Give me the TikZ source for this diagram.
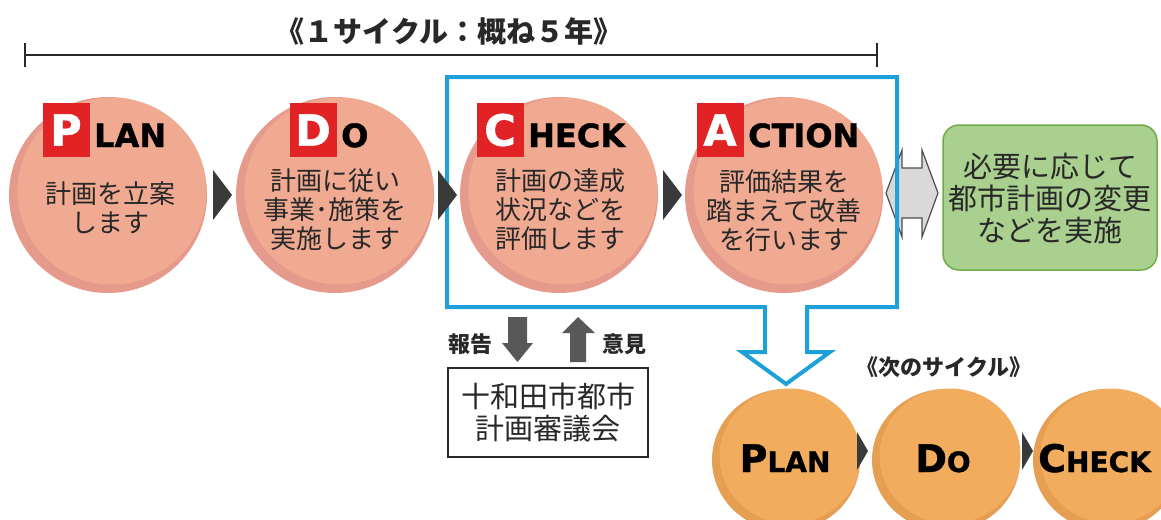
\documentclass[tikz,border=0pt]{standalone}
\usepackage{fontspec}
\setmainfont{DejaVu Sans}
\newfontfamily\jp{Noto Sans CJK JP}
\newfontfamily\lat{DejaVu Sans Bold}[FakeBold=1.2]
\usetikzlibrary{shapes.geometric}

\definecolor{pinkin}{RGB}{241,170,146}
\definecolor{pinkrim}{RGB}{229,154,140}
\definecolor{orin}{RGB}{242,172,94}
\definecolor{orrim}{RGB}{230,158,82}
\definecolor{redsq}{RGB}{226,35,38}
\definecolor{cyanb}{RGB}{30,160,216}
\definecolor{gfill}{RGB}{169,208,142}
\definecolor{gline}{RGB}{112,173,71}
\definecolor{darkarr}{RGB}{58,58,58}
\definecolor{grayarr}{RGB}{88,88,88}
\definecolor{txt}{RGB}{40,40,40}

\tikzset{
  rimP/.style={ellipse, fill=pinkrim, minimum width=198pt, minimum height=196pt, inner sep=0pt},
  inP/.style={ellipse, fill=pinkin, minimum width=189pt, minimum height=187pt, inner sep=0pt},
  rimO/.style={ellipse, fill=orrim, minimum width=148pt, minimum height=142pt, inner sep=0pt},
  inO/.style={ellipse, fill=orin, minimum width=141pt, minimum height=135pt, inner sep=0pt},
  sqlab/.style={fill=redsq, minimum width=47pt, minimum height=54pt, inner sep=0pt, text=white,
    font=\lat\fontsize{43}{43}\selectfont},
  caplab/.style={anchor=base west, inner sep=0pt, text=black, font=\lat\fontsize{32}{32}\selectfont},
  ctext/.style={align=center, text=txt, inner sep=0pt, font=\jp\fontsize{26}{29}\selectfont},
  bigtext/.style={align=center, text=txt, inner sep=0pt, font=\jp\fontsize{29}{32}\selectfont},
  boldjp/.style={text=txt, inner sep=0pt, font=\jp\bfseries\fontsize{22}{22}\selectfont},
  tri/.style={fill=darkarr},
  blockarr/.style={fill=grayarr},
  lowlab/.style={anchor=base, inner sep=0pt, text=black, font=\lat},
}
\newcommand\bigsm[2]{{\fontsize{38}{38}\selectfont #1}{\fontsize{28}{28}\selectfont #2}}

\begin{document}
\begin{tikzpicture}[x=1pt,y=-1pt]
\useasboundingbox (0,0) rectangle (1161,519);
\clip (0,0) rectangle (1161,519);
\fill[white] (0,0) rectangle (1161,519);

% title and span line
\node[text=txt, inner sep=0pt, font=\jp\bfseries\fontsize{29}{29}\selectfont] (title) at (449,31) {《１サイクル：概ね５年》};
\coordinate (lL) at (25,55);
\coordinate (lR) at (877,55);
\draw[line width=2.5pt, txt] (lL) -- (lR);
\draw[line width=2pt, txt] ([yshift=-12pt]lL) -- ([yshift=12pt]lL);
\draw[line width=2pt, txt] ([yshift=-12pt]lR) -- ([yshift=12pt]lR);

% upper circles
\node[rimP] (plan) at (108,195) {};
\node[inP] (planI) at (112,191) {};
\node[rimP] (do) at (335,195) {};
\node[inP] (doI) at (339,191) {};
\node[rimP] (check) at (559,195) {};
\node[inP] (checkI) at (563,191) {};
\node[rimP] (act) at (784,195) {};
\node[inP] (actI) at (788,191) {};

% labels
\node[sqlab] (pP) at (66,130) {P};
\node[caplab] (pL) at (94,147) {LAN};
\node[sqlab] (dD) at (313,130) {D};
\node[caplab] (dO) at (341,147) {O};
\node[sqlab] (cC) at (500,130) {C};
\node[caplab] (cH) at (528,147) {HECK};
\node[sqlab] (aA) at (720,130) {A};
\node[caplab] (aC) at (748,147) {CTION};

% circle texts
\node[ctext] (planT) at (110,208) {計画を立案\\します};
\node[ctext] (doT) at (335,210) {計画に従い\\事業･施策を\\実施します};
\node[ctext] (checkT) at (560,210) {計画の達成\\状況などを\\評価します};
\node[ctext] (actT) at (784,211) {評価結果を\\踏まえて改善\\を行います};

% double arrow and green box
\node[draw=gline, fill=gfill, rounded corners=16pt, line width=1.5pt, minimum width=214pt, minimum height=145pt, inner sep=0pt] (grn) at (1050,197.5) {};
\node[bigtext] (grnT) at (1050,199) {必要に応じて\\都市計画の変更\\などを実施};
\draw[fill=black!15, draw=black!70, line width=1.2pt, line join=miter]
  (886,193) -- (902,150) -- (902,168) -- (922,168) -- (922,150) -- (938,193)
  -- (922,237) -- (922,218) -- (902,218) -- (902,237) -- cycle;

% blue frame with arrow to next cycle
\draw[cyanb, line width=4pt, line join=miter]
  (447,77) -- (897,77) -- (897,307) -- (807,307) -- (807,352) -- (830,352)
  -- (786,384) -- (742,352) -- (765,352) -- (765,307) -- (447,307) -- cycle;

% dark triangles between circles
\fill[tri] (213,170) -- (232,195) -- (213,220) -- cycle;
\fill[tri] (438,170) -- (457,195) -- (438,220) -- cycle;
\fill[tri] (663,170) -- (682,195) -- (663,220) -- cycle;

% report / opinion
\node[boldjp] (rep) at (470,344) {報告};
\node[boldjp] (opi) at (624,344) {意見};
\fill[blockarr] (508,317) -- (527,317) -- (527,343) -- (533,343) -- (517.5,362) -- (502,343) -- (508,343) -- cycle;
\fill[blockarr] (570,362) -- (586,362) -- (586,333) -- (595,333) -- (578,317) -- (562,333) -- (570,333) -- cycle;
\node[draw=txt, line width=1.8pt, minimum width=200pt, minimum height=89pt, inner sep=0pt] (cnc) at (548,412.5) {};
\node[bigtext] (cncT) at (548,413) {十和田市都市\\計画審議会};

% next cycle
\node[boldjp] (nxt) at (944,367) {《次のサイクル》};
\node[rimO] (p2) at (786,460) {};
\node[inO] (p2I) at (790,456) {};
\node[rimO] (d2) at (946,460) {};
\node[inO] (d2I) at (950,456) {};
\node[rimO] (c2) at (1107,460) {};
\node[inO] (c2I) at (1111,456) {};
\node[lowlab] (p2T) at (785,472) {\bigsm{P}{LAN}};
\node[lowlab] (d2T) at (943,472) {\bigsm{D}{O}};
\node[lowlab, anchor=base west] (c2T) at (1038,472) {\bigsm{C}{HECK}};
\fill[tri] (857,432) -- (868,451) -- (857,470) -- cycle;
\fill[tri] (1022,432) -- (1033,451) -- (1022,470) -- cycle;
\end{tikzpicture}
\end{document}
